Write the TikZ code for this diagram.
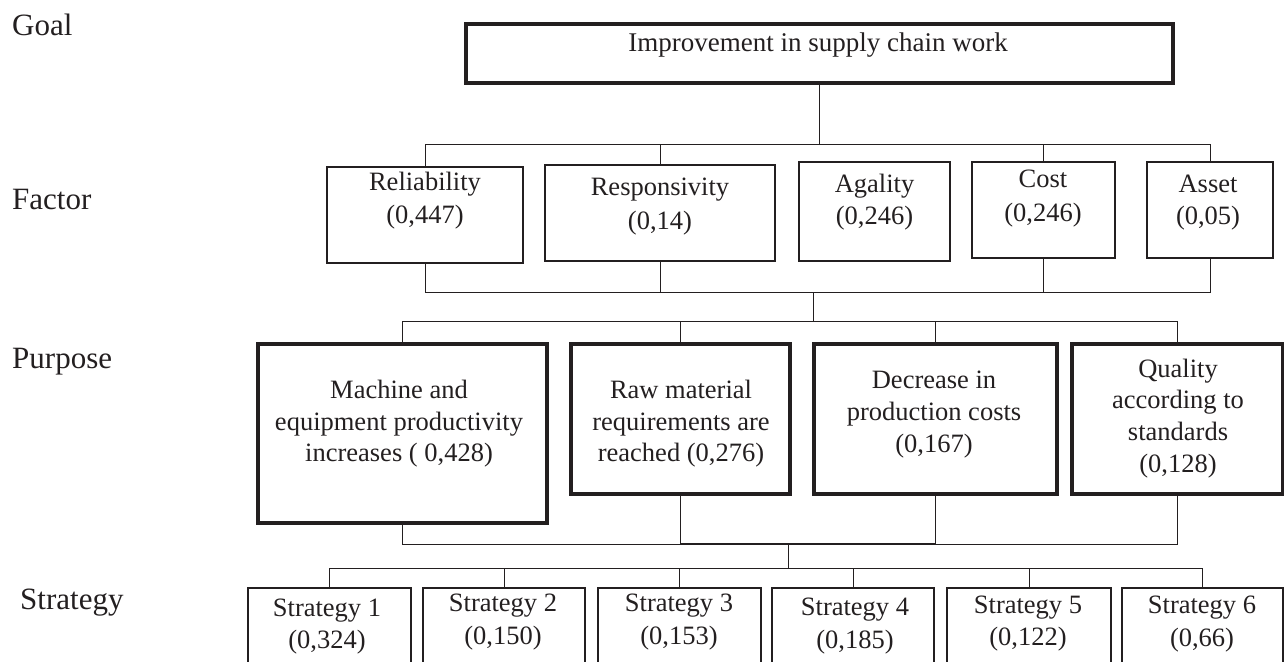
\documentclass[tikz,border=0pt]{standalone}
\usepackage{fontspec}
\setmainfont{Liberation Serif}
\definecolor{ink}{RGB}{35,31,32}
\begin{document}
\begin{tikzpicture}[x=1pt,y=-1pt,
  thinbox/.style={draw=ink, line width=1.2pt, inner sep=0pt},
  thickbox/.style={draw=ink, line width=3.1pt, inner sep=0pt},
  conn/.style={draw=ink, line width=1pt},
  txt/.style={anchor=base, inner sep=0pt, text=ink, font=\fontsize{26.5}{31}\selectfont},
  lvl/.style={anchor=base west, inner sep=0pt, text=ink, font=\fontsize{31}{37}\selectfont}]
\useasboundingbox (0,0) rectangle (1284,661);
\clip (0,0) rectangle (1284,661);
% level labels
\node[lvl] (lgoal) at (12,36) {Goal};
\node[lvl] (lfactor) at (12,209) {Factor};
\node[lvl] (lpurpose) at (12,368) {Purpose};
\node[lvl] (lstrategy) at (20,609) {Strategy};
% goal
\node[thickbox, minimum width=707pt, minimum height=59pt] (goal) at (819.5,53.5) {};
\node[txt, font=\fontsize{27}{31}\selectfont] (tgoal) at (818,52) {Improvement in supply chain work};
% factors
\node[thinbox, minimum width=196pt, minimum height=96pt] (rel) at (425,215) {};
\node[thinbox, minimum width=230pt, minimum height=96pt] (resp) at (660,213) {};
\node[thinbox, minimum width=151pt, minimum height=99pt] (agal) at (874.5,211.5) {};
\node[thinbox, minimum width=143pt, minimum height=96pt] (cost) at (1043.5,210) {};
\node[thinbox, minimum width=126pt, minimum height=96pt] (asset) at (1210,210) {};
\node[txt] (trel1) at (425,190) {Reliability};
\node[txt] (trel2) at (425,223) {(0,447)};
\node[txt] (tresp1) at (660,195) {Responsivity};
\node[txt] (tresp2) at (660,229) {(0,14)};
\node[txt] (tagal1) at (874.5,192) {Agality};
\node[txt] (tagal2) at (874.5,224) {(0,246)};
\node[txt] (tcost1) at (1043,187) {Cost};
\node[txt] (tcost2) at (1043,221) {(0,246)};
\node[txt] (tasset1) at (1208,192) {Asset};
\node[txt] (tasset2) at (1208,224) {(0,05)};
% purposes
\node[thickbox, minimum width=289pt, minimum height=179pt] (p1) at (402.5,433.5) {};
\node[thickbox, minimum width=219pt, minimum height=150pt] (p2) at (680.5,419) {};
\node[thickbox, minimum width=243pt, minimum height=150pt] (p3) at (935.5,419) {};
\node[thickbox, minimum width=211pt, minimum height=150pt] (p4) at (1177.5,419) {};
\node[txt] (tp1a) at (399,398) {Machine and};
\node[txt] (tp1b) at (399,430) {equipment productivity};
\node[txt] (tp1c) at (399,461) {increases ( 0,428)};
\node[txt] (tp2a) at (681,398) {Raw material};
\node[txt] (tp2b) at (681,430) {requirements are};
\node[txt] (tp2c) at (681,461) {reached (0,276)};
\node[txt] (tp3a) at (934,388) {Decrease in};
\node[txt] (tp3b) at (934,420) {production costs};
\node[txt] (tp3c) at (934,452) {(0,167)};
\node[txt] (tp4a) at (1178,377) {Quality};
\node[txt] (tp4b) at (1178,408) {according to};
\node[txt] (tp4c) at (1178,440) {standards};
\node[txt] (tp4d) at (1178,472) {(0,128)};
% strategies
\node[thinbox, minimum width=163pt, minimum height=92pt] (s1) at (329.5,634) {};
\node[thinbox, minimum width=162pt, minimum height=92pt] (s2) at (504,634) {};
\node[thinbox, minimum width=163pt, minimum height=92pt] (s3) at (679.5,634) {};
\node[thinbox, minimum width=162pt, minimum height=92pt] (s4) at (853,634) {};
\node[thinbox, minimum width=164pt, minimum height=92pt] (s5) at (1029,634) {};
\node[thinbox, minimum width=161pt, minimum height=92pt] (s6) at (1202.5,634) {};
\node[txt] (ts1a) at (327,616) {Strategy 1};
\node[txt] (ts1b) at (327,648) {(0,324)};
\node[txt] (ts2a) at (503,611) {Strategy 2};
\node[txt] (ts2b) at (503,644) {(0,150)};
\node[txt] (ts3a) at (679,611) {Strategy 3};
\node[txt] (ts3b) at (679,644) {(0,153)};
\node[txt] (ts4a) at (855,615) {Strategy 4};
\node[txt] (ts4b) at (855,648) {(0,185)};
\node[txt] (ts5a) at (1028,613) {Strategy 5};
\node[txt] (ts5b) at (1028,645) {(0,122)};
\node[txt] (ts6a) at (1202,613) {Strategy 6};
\node[txt] (ts6b) at (1202,646) {(0,66)};
% bus coordinates
\coordinate (b1) at (819.5,144);
\coordinate (b2) at (813,292);
\coordinate (b3) at (813,321);
\coordinate (b4) at (788,544);
\coordinate (b5) at (788,568);
% goal -> factors
\draw[conn] (goal.south) -- (goal.south |- b1);
\draw[conn] (rel.north) |- (asset.north |- b1) -- (asset.north);
\draw[conn] (resp.north) -- (resp.north |- b1);
\draw[conn] (cost.north) -- (cost.north |- b1);
% factors -> purposes
\draw[conn] (rel.south) |- (asset.south |- b2) -- (asset.south);
\draw[conn] (resp.south) -- (resp.south |- b2);
\draw[conn] (cost.south) -- (cost.south |- b2);
\draw[conn] (b2) -- (b3);
\draw[conn] (p1.north) |- (p4.north |- b3) -- (p4.north);
\draw[conn] (p2.north) -- (p2.north |- b3);
\draw[conn] (p3.north) -- (p3.north |- b3);
% purposes -> strategies
\draw[conn] (p1.south) |- (p4.south |- b4) -- (p4.south);
\draw[conn, line width=2pt] (p2.south |- b4) -- (p3.south |- b4);
\draw[conn] (p2.south) -- (p2.south |- b4);
\draw[conn] (p3.south) -- (p3.south |- b4);
\draw[conn] (b4) -- (b5);
\draw[conn] (s1.north) |- (s6.north |- b5) -- (s6.north);
\draw[conn] (s2.north) -- (s2.north |- b5);
\draw[conn] (s3.north) -- (s3.north |- b5);
\draw[conn] (s4.north) -- (s4.north |- b5);
\draw[conn] (s5.north) -- (s5.north |- b5);
\end{tikzpicture}
\end{document}
